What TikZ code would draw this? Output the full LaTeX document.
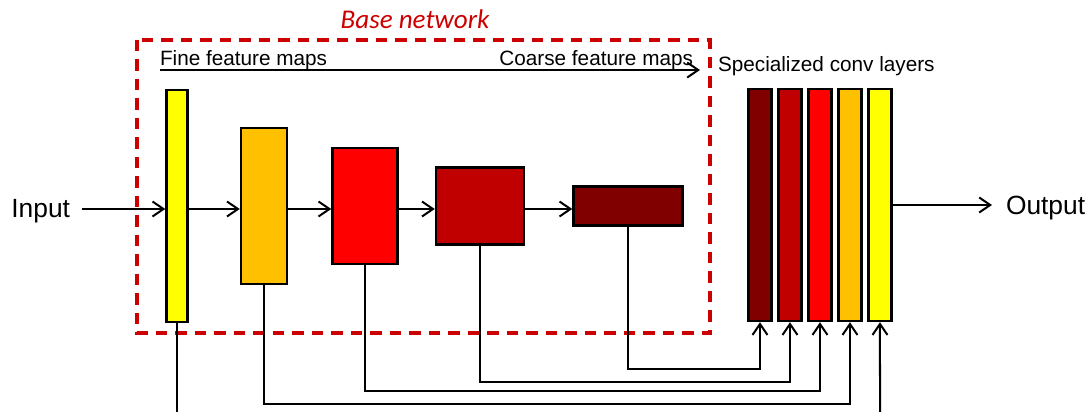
\documentclass[tikz,border=0pt]{standalone}
\usepackage{fontspec}
\setmainfont{Liberation Sans}
\newfontfamily\calibri{Carlito}
\usetikzlibrary{positioning,arrows.meta}
\definecolor{fyellow}{RGB}{255,255,0}
\definecolor{forange}{RGB}{255,192,0}
\definecolor{fred}{RGB}{255,0,0}
\definecolor{fdarkred}{RGB}{192,0,0}
\definecolor{fmaroon}{RGB}{128,0,0}
\definecolor{basered}{RGB}{204,0,0}

\begin{document}
\begin{tikzpicture}[x=0.02cm,y=-0.02cm,node distance=0.6cm,on grid,
    >={Straight Barb[length=2.2mm,width=3mm]},line width=1.14pt,
    fmap/.style={draw,line width=1.4pt,inner sep=0pt},
    spec/.style={fmap,minimum width=0.46cm,minimum height=4.64cm},
    lbl/.style={inner sep=0pt,font=\fontsize{11.8pt}{14pt}\selectfont},
    io/.style={inner sep=0pt,font=\fontsize{15pt}{18pt}\selectfont}]
   \useasboundingbox (0,0) rectangle (1092,412);
   % base network
   \draw[basered,line width=2pt,dash pattern=on 0.23cm off 0.16cm] (137,40) rectangle (710,333);
   \node[basered,anchor=base,inner sep=0pt,font=\calibri\itshape\fontsize{15.4pt}{18pt}\selectfont] (base) at (415,29) {Base network};
   \node[lbl,anchor=base west] (fine) at (159,66) {Fine feature maps};
   \node[lbl,anchor=base east] (coarse) at (694,66) {Coarse feature maps};
   \coordinate (fa) at (160,70);
   \coordinate (fb) at (700,70);
   \draw[->] (fa) -- (fb);
   % feature maps
   \node[fmap,fill=fyellow,minimum width=0.42cm,minimum height=4.64cm] (l_1) at (177,206) {};
   \node[fmap,fill=forange,minimum width=0.92cm,minimum height=3.12cm] (l_2) at (264,206) {};
   \node[fmap,fill=fred,minimum width=1.3cm,minimum height=2.32cm] (l_3) at (365,206) {};
   \node[fmap,fill=fdarkred,minimum width=1.76cm,minimum height=1.54cm] (l_4) at (480,206) {};
   \node[fmap,fill=fmaroon,minimum width=2.18cm,minimum height=0.78cm] (l_5) at (628,206) {};
   % specialized conv layers
   \node[spec,fill=fmaroon] (s_1) at (760,205) {};
   \node[spec,fill=fdarkred] (s_2) [right=of s_1] {};
   \node[spec,fill=fred] (s_3) [right=of s_2] {};
   \node[spec,fill=forange] (s_4) [right=of s_3] {};
   \node[spec,fill=fyellow] (s_5) [right=of s_4] {};
   \node[lbl,anchor=base west] (spec) at (717,72) {Specialized conv layers};
   % input / output
   \node[io,anchor=east] (in) at (71,211) {Input};
   \node[io,anchor=west] (out) at (1005,208) {Output};
   \coordinate (in_a) at (82,209);
   \coordinate (out_b) at (992,205);
   \coordinate (down_1) at (177,412);
   \coordinate (up_5) at (880,412);
   \path[->]
    (in_a) edge (in_a -| l_1.west)
    (l_1.east |- in_a) edge (l_2.west |- in_a)
    (l_2.east |- in_a) edge (l_3.west |- in_a)
    (l_3.east |- in_a) edge (l_4.west |- in_a)
    (l_4.east |- in_a) edge (l_5.west |- in_a)
    (s_5.east |- out_b) edge (out_b)
    (up_5) edge (s_5.south);
   \draw (l_1.south) -- (down_1);
   \draw[->] (l_2.south) -- ++(0,119) -| (s_4.south);
   \draw[->] (l_3.south) -- ++(0,126) -| (s_3.south);
   \draw[->] (l_4.south) -- ++(0,136) -| (s_2.south);
   \draw[->] (l_5.south) -- ++(0,142) -| (s_1.south);
\end{tikzpicture}
\end{document}
